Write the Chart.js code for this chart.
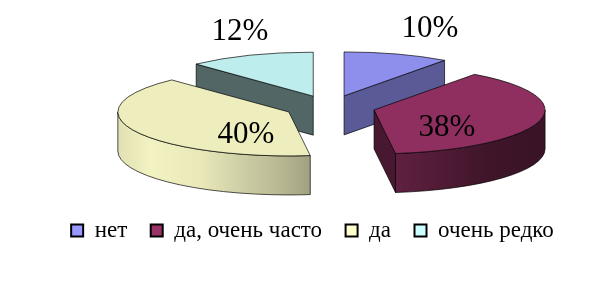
<!DOCTYPE html>
<html>
<head>
<meta charset="utf-8">
<script src="https://cdn.jsdelivr.net/npm/chart.js@4"></script>
<style>
html, body { margin: 0; padding: 0; background: #fff; }
#wrap { width: 615px; height: 294px; }
</style>
</head>
<body>
<div id="wrap"><canvas id="answers"></canvas></div>
<script>
const categories = ["нет", "да, очень часто", "да", "очень редко"];
const shares = [10, 38, 40, 12];
const baseColors = ["#9999ff", "#993366", "#ffffcc", "#ccffff"];

const serif = "'Liberation Serif', 'Times New Roman', serif";

function shade(hex, f) {
    const n = parseInt(hex.slice(1), 16);
    const r = (n >> 16) & 255, g = (n >> 8) & 255, b = n & 255;
    return "rgb(" + Math.round(r * f) + "," + Math.round(g * f) + "," + Math.round(b * f) + ")";
}

// fake 3d: squash the pie arcs chart.js computed and extrude them down
const pie3d = {
    id: "pie3d",
    beforeDatasetsDraw(chart, args, opts) {
        const ctx = chart.ctx;
        const arcs = chart.getDatasetMeta(0).data;
        const k = opts.tilt, D = opts.explode, H = opts.depth;
        const total = shares.reduce((a, b) => a + b, 0);

        const slices = arcs.map((a, i) => {
            const mid = (a.startAngle + a.endAngle) / 2;
            return {
                i: i, s: a.startAngle, e: a.endAngle, R: a.outerRadius, mid: mid,
                cx: opts.centerX + D * Math.cos(mid),
                cy: opts.centerY + D * Math.sin(mid) * k
            };
        });
        slices.sort((p, q) => p.cy - q.cy);

        ctx.save();
        ctx.lineWidth = 0.8;
        ctx.strokeStyle = "rgba(0,0,0,0.85)";
        ctx.lineJoin = "round";

        function wall(sl, t) {
            const x = sl.cx + sl.R * Math.cos(t), y = sl.cy + sl.R * Math.sin(t) * k;
            ctx.beginPath();
            ctx.moveTo(sl.cx, sl.cy);
            ctx.lineTo(x, y);
            ctx.lineTo(x, y + H);
            ctx.lineTo(sl.cx, sl.cy + H);
            ctx.closePath();
            ctx.fillStyle = shade(baseColors[sl.i], opts.wallShade[sl.i]);
            ctx.fill();
            ctx.stroke();
        }

        slices.forEach(sl => {
            const R = sl.R, Ry = sl.R * k;
            if (Math.cos(sl.s) < 0) wall(sl, sl.s);
            if (Math.cos(sl.e) > 0) wall(sl, sl.e);

            const a = Math.max(sl.s, 0), b = Math.min(sl.e, Math.PI);
            if (a < b) {
                const g = ctx.createLinearGradient(sl.cx + R, 0, sl.cx - R, 0);
                opts.light.forEach(st => {
                    const th = st[0] * Math.PI / 180;
                    g.addColorStop((1 - Math.cos(th)) / 2, shade(baseColors[sl.i], st[1]));
                });
                ctx.beginPath();
                ctx.ellipse(sl.cx, sl.cy, R, Ry, 0, a, b);
                ctx.ellipse(sl.cx, sl.cy + H, R, Ry, 0, b, a, true);
                ctx.closePath();
                ctx.fillStyle = g;
                ctx.fill();
                ctx.stroke();
            }

            ctx.beginPath();
            ctx.moveTo(sl.cx, sl.cy);
            ctx.ellipse(sl.cx, sl.cy, R, Ry, 0, sl.s, sl.e);
            ctx.closePath();
            ctx.fillStyle = shade(baseColors[sl.i], opts.topShade);
            ctx.fill();
            ctx.stroke();
        });

        ctx.fillStyle = "#000";
        ctx.font = opts.labelSize + "px " + serif;
        ctx.textAlign = "center";
        ctx.textBaseline = "middle";
        slices.forEach(sl => {
            const p = opts.labelPlace[sl.i];
            const x = sl.cx + sl.R * p[0] * Math.cos(sl.mid);
            const y = sl.cy + sl.R * k * p[1] * Math.sin(sl.mid);
            ctx.fillText(Math.round(shares[sl.i] / total * 100) + "%", x, y);
        });
        ctx.restore();
        return false;
    }
};

new Chart("answers", {
    type: "pie",
    data: {
        labels: categories,
        datasets: [{
            data: shares,
            backgroundColor: baseColors,
            borderWidth: 0,
            radius: 171
        }]
    },
    options: {
        responsive: true,
        maintainAspectRatio: false,
        animation: false,
        events: [],
        layout: {padding: {left: 10, bottom: 42}},
        plugins: {
            tooltip: {enabled: false},
            legend: {
                position: "bottom",
                labels: {
                    color: "#000",
                    font: {family: serif, size: 23},
                    boxWidth: 12,
                    boxHeight: 12,
                    padding: 23.5,
                    generateLabels: (chart) => categories.map((c, i) => ({
                        text: c,
                        fillStyle: baseColors[i],
                        strokeStyle: "#000",
                        lineWidth: 2,
                        index: i
                    }))
                }
            },
            pie3d: {
                centerX: 330,
                centerY: 107,
                tilt: 0.257,
                explode: 45.5,
                depth: 39,
                topShade: 0.93,
                wallShade: [0.59, 0.47, 0.6, 0.4],
                light: [[0, 0.38], [40, 0.4], [52, 0.43], [64, 0.5], [83, 0.63], [93, 0.72], [103, 0.79], [121, 0.91], [144, 0.95], [180, 0.88]],
                labelSize: 31,
                labelPlace: [[1.627, 1.598], [0.44, 1.656], [0.277, 1.23], [1.164, 1.569]]
            }
        }
    },
    plugins: [pie3d]
});
</script>
</body>
</html>
